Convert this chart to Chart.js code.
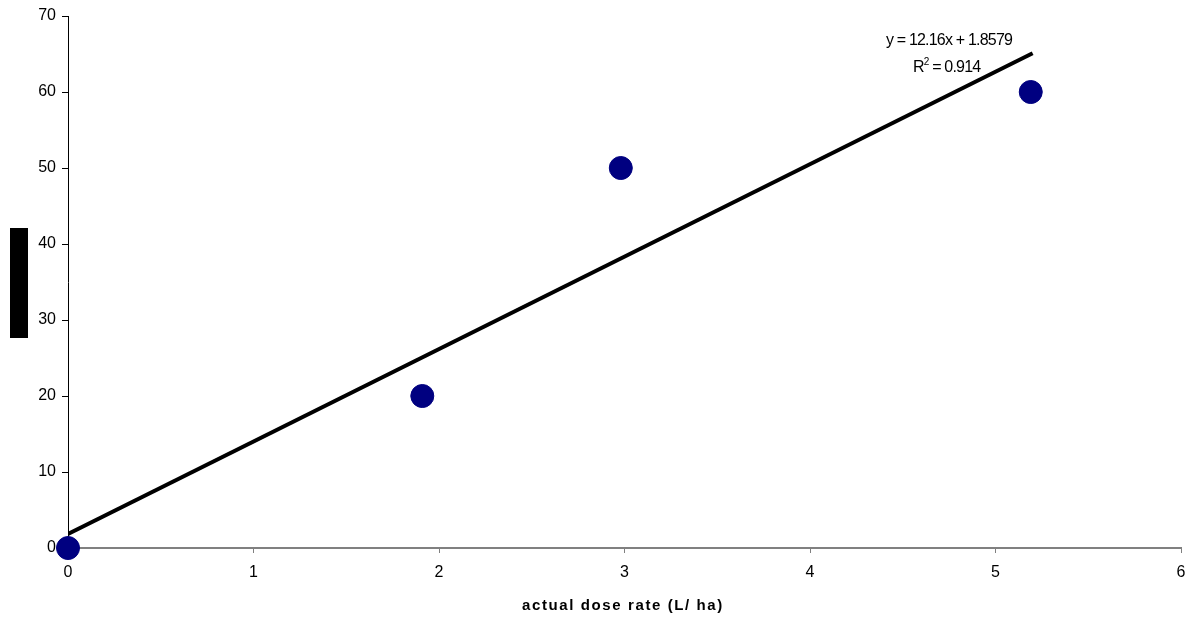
<!DOCTYPE html>
<html>
<head>
<meta charset="utf-8">
<script src="https://cdn.jsdelivr.net/npm/chart.js@4"></script>
<style>
  html, body { margin:0; padding:0; background:#fff; }
  #wrap { width:1202px; height:619px; }
</style>
</head>
<body>
<div id="wrap"><canvas id="chart" width="1202" height="619"></canvas></div>
<script>
// ── Data ─────────────────────────────────────────────────────────────────────
const doseX   = [0, 1.91, 2.98, 5.19];
const effectY = [0, 20, 50, 60];
const trendX  = [0, 5.2];
const trendY  = [1.86, 65.09];
const xTicks  = [0, 1, 2, 3, 4, 5, 6];
const yTicks  = [0, 10, 20, 30, 40, 50, 60, 70];
const EQUATION = 'y = 12.16x + 1.8579';
const R2_VALUE = ' = 0.914';
const X_TITLE  = 'actual dose rate (L/ ha)';

const FONT = 'Liberation Sans, Arial, sans-serif';

// ── Annotation plugin: equation, R², x title, redacted y title box ───────────
const extras = {
  id: 'extras',
  afterDraw(chart) {
    const c = chart.ctx;
    c.save();
    c.fillStyle = '#000';
    c.fillRect(10, 228, 18, 110);

    c.font = '16px ' + FONT;
    c.textBaseline = 'middle';
    c.textAlign = 'center';
    c.letterSpacing = '-0.8px';
    c.fillText(EQUATION, 949, 41);

    // R² line
    c.textAlign = 'left';
    let x = 913;
    c.fillText('R', x, 68);
    x += c.measureText('R').width;
    c.font = '10px ' + FONT;
    c.fillText('2', x, 62);
    x += c.measureText('2').width;
    c.font = '16px ' + FONT;
    c.fillText(R2_VALUE, x, 68);

    // x axis title, spaced out like the original
    c.font = 'bold 15px ' + FONT;
    c.textAlign = 'center';
    c.letterSpacing = '1.6px';
    c.fillText(X_TITLE, 623, 606);
    c.restore();
  }
};

new Chart(document.getElementById('chart'), {
  type: 'scatter',
  data: {
    datasets: [
      {
        label: 'trend',
        type: 'line',
        data: trendX.map((x, i) => ({ x, y: trendY[i] })),
        borderColor: '#000',
        borderWidth: 4,
        pointRadius: 0,
        fill: false,
        order: 2
      },
      {
        label: 'observed',
        data: doseX.map((x, i) => ({ x, y: effectY[i] })),
        backgroundColor: '#000080',
        borderColor: '#000080',
        pointRadius: 11.5,
        pointHoverRadius: 11.5,
        clip: false,
        order: 1
      }
    ]
  },
  options: {
    responsive: false,
    animation: false,
    events: [],
    layout: { padding: { left: 0, right: 21, top: 16, bottom: 0 } },
    plugins: { legend: { display: false }, tooltip: { enabled: false } },
    scales: {
      x: {
        type: 'linear',
        min: 0, max: 6,
        afterBuildTicks: s => { s.ticks = xTicks.map(v => ({ value: v })); },
        afterFit: s => { s.height = 71; },
        grid: { drawOnChartArea: false, color: '#808080', tickLength: 5 },
        border: { color: '#808080', width: 2 },
        ticks: { color: '#000', font: { family: FONT, size: 16 }, padding: 10 }
      },
      y: {
        type: 'linear',
        min: 0, max: 70,
        afterBuildTicks: s => { s.ticks = yTicks.map(v => ({ value: v })); },
        afterFit: s => { s.width = 68; },
        grid: { drawOnChartArea: false, color: '#000', tickLength: 6 },
        border: { color: '#000', width: 1 },
        ticks: { color: '#000', font: { family: FONT, size: 16 }, padding: 6 }
      }
    }
  },
  plugins: [extras]
});
</script>
</body>
</html>
